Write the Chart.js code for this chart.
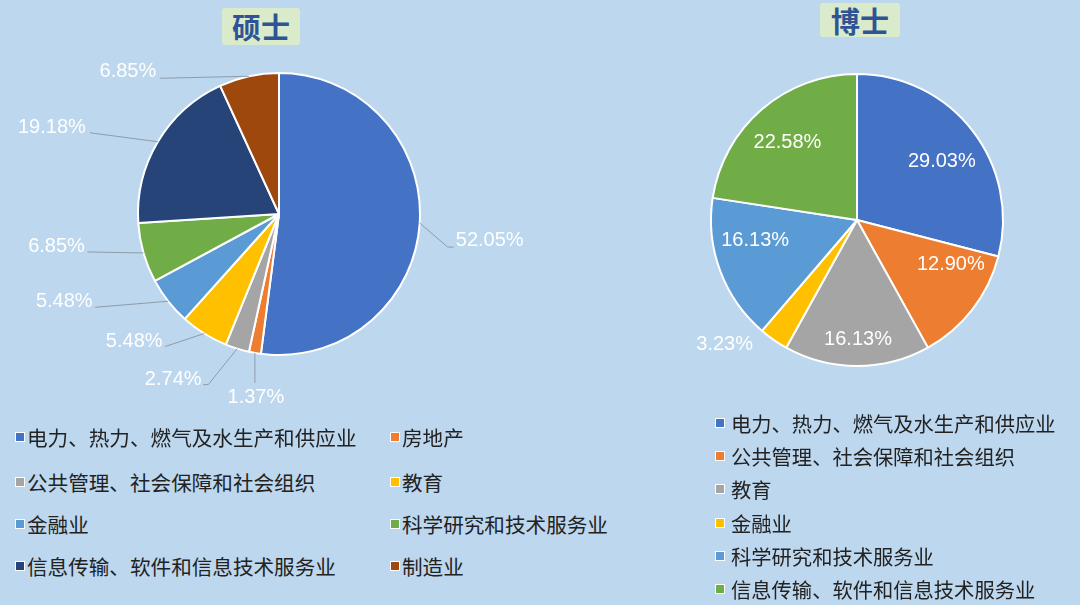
<!DOCTYPE html>
<html>
<head>
<meta charset="utf-8">
<script src="https://cdn.jsdelivr.net/npm/chart.js@4/dist/chart.umd.min.js"></script>
<style>
  html, body { margin: 0; padding: 0; }
  body { width: 1080px; height: 605px; background: #BDD7EE; position: relative; overflow: hidden;
         font-family: "Noto Sans CJK SC", "Noto Sans", sans-serif; }
  .title { position: absolute; background: #DAEBCB; color: #2F5496; font-weight: bold; font-size: 29px;
           text-align: center; border-radius: 3px; }
  .cv { position: absolute; }
  .leg { position: absolute; color: #222; white-space: nowrap; }
  .item { position: absolute; display: flex; align-items: center; height: 30px; }
  .sw { width: 8px; height: 8px; border: 1.5px solid #fff; flex: none; }
</style>
</head>
<body>
<div class="title" style="left:222px;top:8px;width:78px;height:37px;line-height:37px;">硕士</div>
<div class="title" style="left:820px;top:3px;width:80px;height:34px;line-height:34px;">博士</div>
<canvas id="c1" class="cv" style="left:0;top:0;"></canvas>
<canvas id="c2" class="cv" style="left:634px;top:0;"></canvas>
<div id="leg1" class="leg" style="font-size:20.6px;"></div>
<div id="leg2" class="leg" style="font-size:20.3px;"></div>
<script>
// ---- data ----
const mastersCategories = ['电力、热力、燃气及水生产和供应业', '房地产', '公共管理、社会保障和社会组织', '教育', '金融业', '科学研究和技术服务业', '信息传输、软件和信息技术服务业', '制造业'];
const mastersValues = [52.05, 1.37, 2.74, 5.48, 5.48, 6.85, 19.18, 6.85];
const doctorsCategories = ['电力、热力、燃气及水生产和供应业', '公共管理、社会保障和社会组织', '教育', '金融业', '科学研究和技术服务业', '信息传输、软件和信息技术服务业'];
const doctorsValues = [29.03, 12.90, 16.13, 3.23, 16.13, 22.58];

// ---- styles ----
const mastersColors = ['#4472C4', '#ED7D31', '#A5A5A5', '#FFC000', '#5B9BD5', '#70AD47', '#264478', '#9E480E'];
const doctorsColors = ['#4472C4', '#ED7D31', '#A5A5A5', '#FFC000', '#5B9BD5', '#70AD47'];

const pieLabels = {
  id: 'pieLabels',
  afterDatasetsDraw(chart, args, opts) {
    const ctx = chart.ctx;
    const meta = chart.getDatasetMeta(0);
    const vals = chart.data.datasets[0].data;
    ctx.save();
    ctx.font = '20px "Liberation Sans", Arial, sans-serif';
    ctx.fillStyle = '#ffffff';
    ctx.textAlign = 'center';
    ctx.textBaseline = 'middle';
    meta.data.forEach((arc, i) => {
      const p = arc.getProps(['x', 'y', 'startAngle', 'endAngle', 'outerRadius'], true);
      const mid = (p.startAngle + p.endAngle) / 2;
      const txt = vals[i].toFixed(2) + '%';
      if (opts.mode === 'outside') {
        const ex = p.x + Math.cos(mid) * p.outerRadius;
        const ey = p.y + Math.sin(mid) * p.outerRadius;
        const it = opts.items[i];
        ctx.strokeStyle = '#8E9BA8';
        ctx.lineWidth = 1;
        ctx.beginPath();
        ctx.moveTo(ex, ey);
        it.pts.forEach(q => ctx.lineTo(ex + q[0], ey + q[1]));
        ctx.stroke();
        ctx.fillText(txt, ex + it.t[0], ey + it.t[1]);
      } else {
        const r = p.outerRadius * opts.frac;
        const bx = p.x + Math.cos(mid) * r;
        const by = p.y + Math.sin(mid) * r;
        const tw = opts.tweaks[i];
        ctx.fillText(txt, bx + tw[0], by + tw[1]);
      }
    });
    ctx.restore();
  }
};

function makePie(id, w, h, radius, labels, values, colors, labelOpts) {
  const cv = document.getElementById(id);
  cv.width = w; cv.height = h;
  cv.style.width = w + 'px'; cv.style.height = h + 'px';
  return new Chart(cv, {
    type: 'pie',
    data: { labels: labels, datasets: [{ data: values, backgroundColor: colors, borderColor: '#ffffff', borderWidth: 2 }] },
    options: {
      responsive: false, animation: false, radius: radius,
      layout: { padding: 0 },
      plugins: { legend: { display: false }, tooltip: { enabled: false }, pieLabels: labelOpts }
    },
    plugins: [pieLabels]
  });
}

makePie('c1', 558, 428, 141, mastersCategories, mastersValues, mastersColors, {
  mode: 'outside',
  items: [
    { pts: [[28, 24], [34, 24]], t: [70, 17] },
    { pts: [[0, 30]], t: [1, 45] },
    { pts: [[-29, 36], [-34, 36]], t: [-64, 31] },
    { pts: [[-39, 13]], t: [-70, 8] },
    { pts: [[-73, 6]], t: [-104, 0] },
    { pts: [[-56, -1]], t: [-87, -6] },
    { pts: [[-68, -9]], t: [-106, -14] },
    { pts: [[-89, 2]], t: [-121, -5] }
  ]
});

makePie('c2', 446, 440, 146, doctorsCategories, doctorsValues, doctorsColors, {
  mode: 'inside', frac: 0.7,
  tweaks: [[4, 4], [13, -18], [1, 17], [-74, 41], [-6, -15], [-3, 0]]
});

// ---- HTML legends ----
function buildLegend(elId, cats, colors, positions, gap) {
  const el = document.getElementById(elId);
  cats.forEach((c, i) => {
    const d = document.createElement('div');
    d.className = 'item';
    d.style.left = positions[i][0] + 'px';
    d.style.top = (positions[i][1] - 15) + 'px';
    const s = document.createElement('span');
    s.className = 'sw'; s.style.background = colors[i]; s.style.marginRight = gap + 'px';
    const t = document.createElement('span');
    t.textContent = c;
    d.appendChild(s); d.appendChild(t);
    el.appendChild(d);
  });
}
const leftRows = [437, 482, 524, 566];
const leftPos = mastersCategories.map((c, i) => [i % 2 === 0 ? 15 : 390, leftRows[Math.floor(i / 2)]]);
buildLegend('leg1', mastersCategories, mastersColors, leftPos, 2);
const rightPos = doctorsCategories.map((c, i) => [715, 423 + i * 33.2]);
buildLegend('leg2', doctorsCategories, doctorsColors, rightPos, 6);
</script>
</body>
</html>
